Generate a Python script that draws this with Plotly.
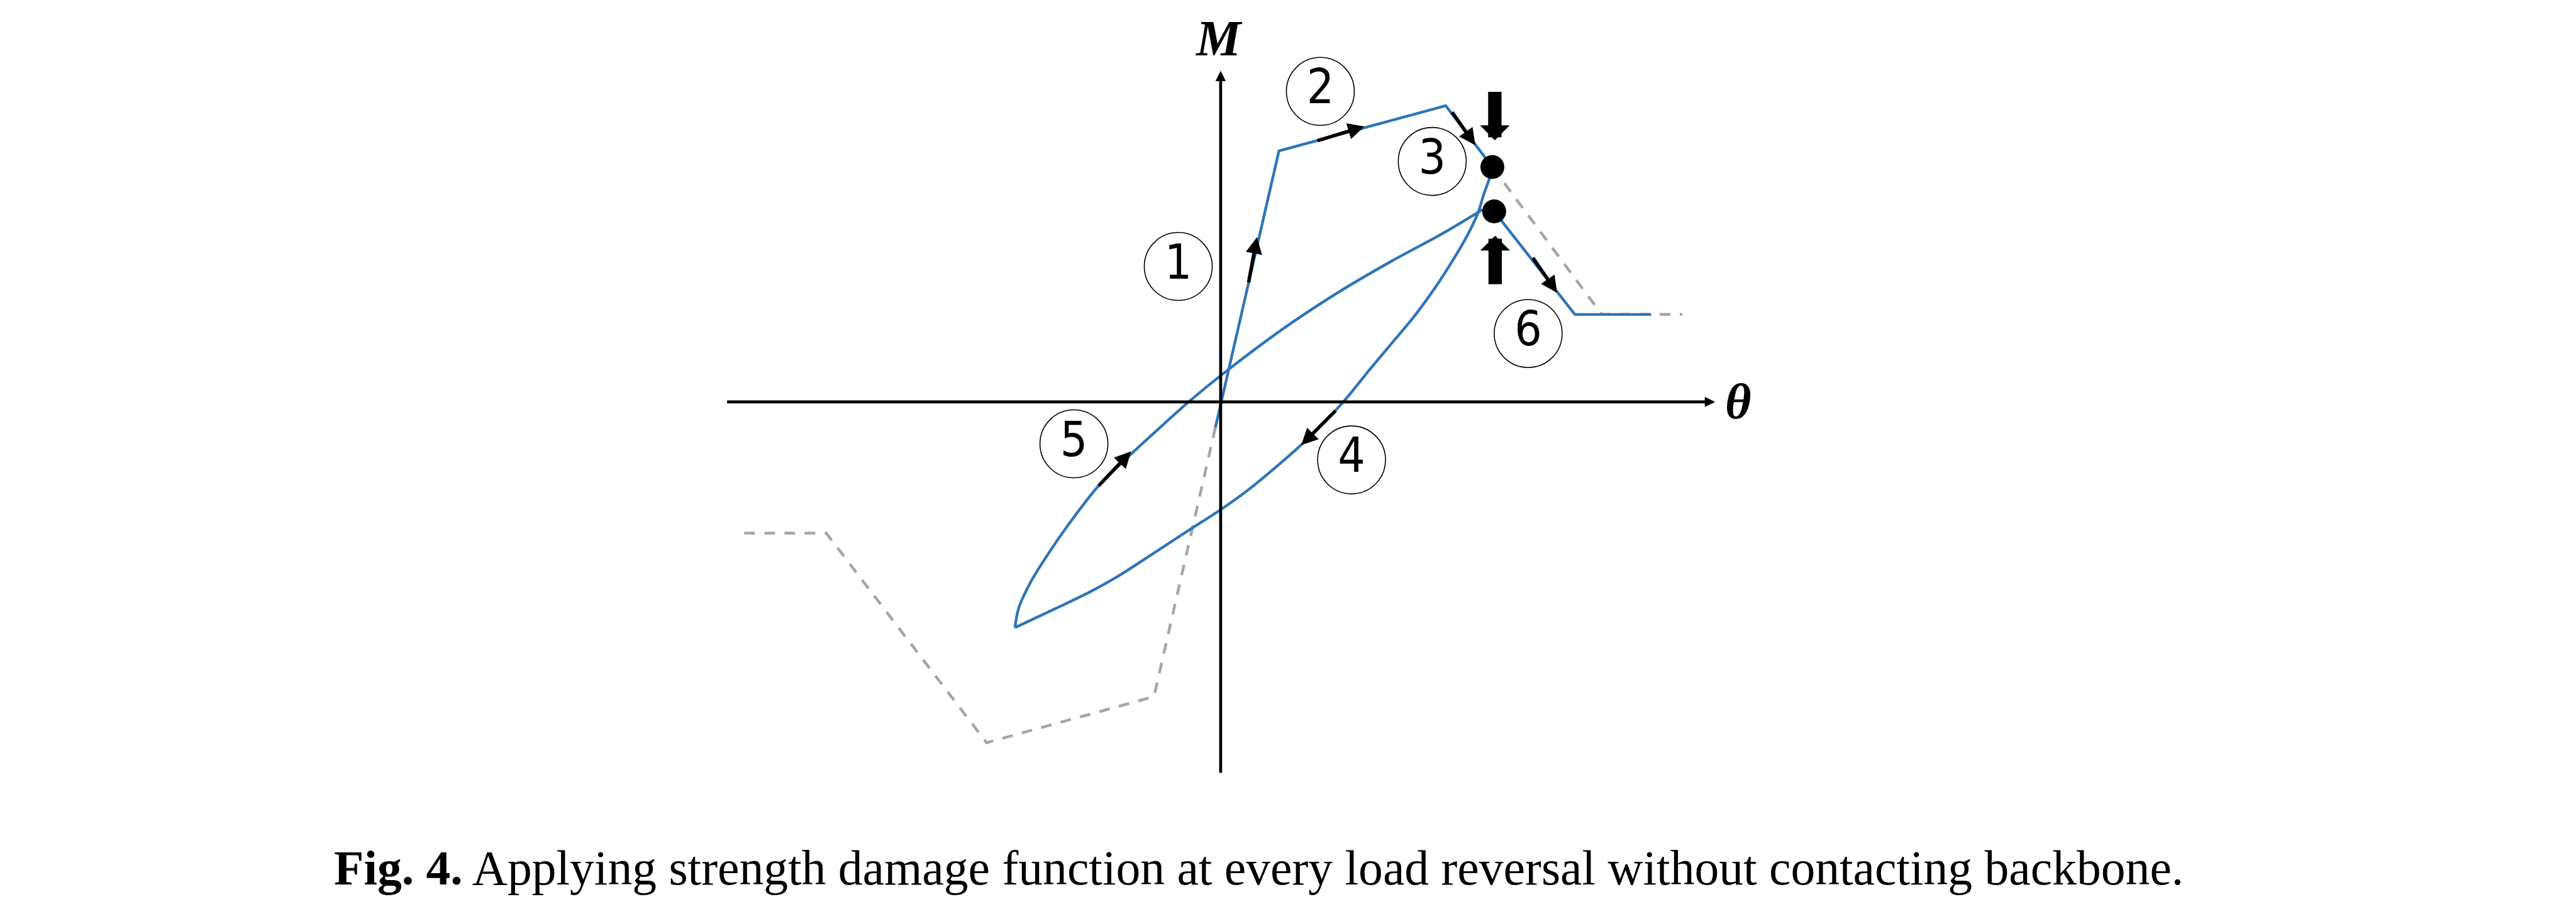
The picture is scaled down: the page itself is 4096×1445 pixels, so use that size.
import plotly.graph_objects as go

# ---------------- data (diagram units: 1 unit = 1 px of a 1568-wide reference) ----------------
# loading along backbone (blue): origin -> yield -> peak -> reversal point
bb_x = [-3.2, 35.5, 137.0, 165.4]
bb_y = [-15.5, 152.7, 180.2, 142.9]
# unloading branch (4)
un_x = [165.4, 163.5, 160.0, 157.0, 151.0, 142.3, 131.6, 118.6, 103.6, 90.6, 74.7,
        50.4, 19.0, 0.0, -19.1, -41.9, -62.2, -80.0, -100.2, -125.2]
un_y = [142.9, 135.6, 125.8, 115.9, 102.9, 87.7, 71.0, 53.0, 35.0, 19.5, 0.0,
        -24.9, -51.8, -65.6, -77.9, -92.8, -105.9, -115.8, -125.6, -137.3]
# reloading branch (5)
re_x = [-125.2, -123.0, -115.4, -105.2, -92.6, -74.8, -54.6, -36.8, -19.5, 2.3,
        38.9, 71.2, 103.6, 135.9, 159.5]
re_y = [-137.3, -125.7, -109.2, -92.8, -74.6, -51.6, -31.8, -15.5, 0.0, 17.8,
        45.1, 66.4, 85.4, 102.9, 117.0]
# degraded backbone after reversal (6)
dn_x = [166.5, 215.6, 262.0]
dn_y = [115.9, 53.2, 53.2]
# original backbone (grey dashed)
gp_x = [165.4, 232.0, 281.0]
gp_y = [142.9, 53.2, 53.2]
gn_x = [-290.0, -240.1, -142.5, -40.6, -3.2]
gn_y = [-79.8, -79.8, -207.3, -179.3, -15.5]
# reversal points
dot_x = [165.4, 166.5]
dot_y = [142.9, 115.9]
# circled step labels
lab_text = ["1", "2", "3", "4", "5", "6"]
lab_x = [-25.8, 60.7, 128.8, 79.7, -89.3, 187.2]
lab_y = [82.4, 188.9, 146.3, -35.3, -25.5, 41.6]
# direction arrows (tail -> tip)
arr_tail_x = [16.9, 58.4, 140.5, 70.5, -74.8, 189.7]
arr_tail_y = [72.1, 158.7, 176.8, -4.8, -51.6, 88.2]
arr_tip_x = [22.1, 87.5, 155.0, 49.1, -54.5, 204.8]
arr_tip_y = [100.2, 167.6, 156.2, -26.3, -30.1, 66.4]
# block arrows pointing at the reversal points
blk_x = [166.9, 167.1]
blk_tail_y = [189.2, 71.0]
blk_tip_y = [159.2, 101.1]
# axes
xaxis_span = [-301.0, 301.0]
yaxis_span = [-226.2, 201.4]

caption = "<b>Fig. 4.</b> Applying strength damage function at every load reversal without contacting backbone."

BLUE = "#2E75B6"
GREY = "#A6A6A6"

fig = go.Figure()

# grey dashed original backbone
for gx, gy in [(gn_x, gn_y), (gp_x, gp_y)]:
    fig.add_trace(go.Scatter(x=gx, y=gy, mode="lines",
                             line=dict(color=GREY, width=4.5, dash="17px,15px"),
                             hoverinfo="skip"))

# blue response path
fig.add_trace(go.Scatter(x=bb_x, y=bb_y, mode="lines", line=dict(color=BLUE, width=4.4)))
fig.add_trace(go.Scatter(x=un_x, y=un_y, mode="lines",
                         line=dict(color=BLUE, width=4.4, shape="spline", smoothing=0.8)))
fig.add_trace(go.Scatter(x=re_x, y=re_y, mode="lines",
                         line=dict(color=BLUE, width=4.4, shape="spline", smoothing=0.8)))
fig.add_trace(go.Scatter(x=dn_x, y=dn_y, mode="lines", line=dict(color=BLUE, width=4.4)))

# reversal dots
fig.add_trace(go.Scatter(x=dot_x, y=dot_y, mode="markers",
                         marker=dict(color="black", size=38, line=dict(width=0))))

# circled labels
fig.add_trace(go.Scatter(x=lab_x, y=lab_y, mode="markers+text", text=lab_text,
                         textposition="middle center",
                         textfont=dict(family="Liberation Sans Narrow, DejaVu Sans Condensed, Arial Narrow, sans-serif",
                                       size=76, color="black"),
                         marker=dict(size=108, color="rgba(0,0,0,0)",
                                     line=dict(color="black", width=1.6))))

ann = []
# axes with arrowheads
ann.append(dict(x=xaxis_span[1], y=0, ax=xaxis_span[0], ay=0))
ann.append(dict(x=0, y=yaxis_span[1], ax=0, ay=yaxis_span[0]))
for a in ann:
    a.update(xref="x", yref="y", axref="x", ayref="y", text="", showarrow=True,
             arrowhead=2, arrowsize=0.7, arrowwidth=4.7, arrowcolor="black", standoff=0)

for tx, ty, hx, hy in zip(arr_tail_x, arr_tail_y, arr_tip_x, arr_tip_y):
    ann.append(dict(x=hx, y=hy, ax=tx, ay=ty, xref="x", yref="y", axref="x", ayref="y",
                    text="", showarrow=True, arrowhead=2, arrowsize=0.95, arrowwidth=5.5,
                    arrowcolor="black", standoff=0))

for bx, t0, t1 in zip(blk_x, blk_tail_y, blk_tip_y):
    ann.append(dict(x=bx, y=t1, ax=bx, ay=t0, xref="x", yref="y", axref="x", ayref="y",
                    text="", showarrow=True, arrowhead=1, arrowsize=0.37, arrowwidth=21.3,
                    arrowcolor="black", standoff=0))

# axis labels
ann.append(dict(x=-1, y=221.3, xref="x", yref="y", text="<b><i>M</i></b>", showarrow=False,
                xanchor="center", yanchor="middle",
                font=dict(family="Liberation Serif, DejaVu Serif, serif", size=80, color="black")))
ann.append(dict(x=315, y=0.2, xref="x", yref="y", text="<b><i>θ</i></b>", showarrow=False,
                xanchor="center", yanchor="middle",
                font=dict(family="Liberation Serif, DejaVu Serif, serif", size=80, color="black")))
# caption
ann.append(dict(x=23.2, y=-283.5, xref="x", yref="y", text=caption, showarrow=False,
                xanchor="center", yanchor="middle",
                font=dict(family="Liberation Serif, Times New Roman, serif", size=77.6, color="black")))

fig.update_layout(
    width=4096, height=1445,
    margin=dict(l=0, r=0, t=0, b=0),
    paper_bgcolor="white", plot_bgcolor="white",
    showlegend=False,
    annotations=ann,
    xaxis=dict(range=[-743, 825], visible=False, showgrid=False, zeroline=False, fixedrange=True),
    yaxis=dict(range=[-308.5, 244.5], visible=False, showgrid=False, zeroline=False, fixedrange=True),
)

fig.write_html("out.html", config={"displayModeBar": False},
               post_script="document.body.style.margin='0';document.body.style.overflow='hidden';")
